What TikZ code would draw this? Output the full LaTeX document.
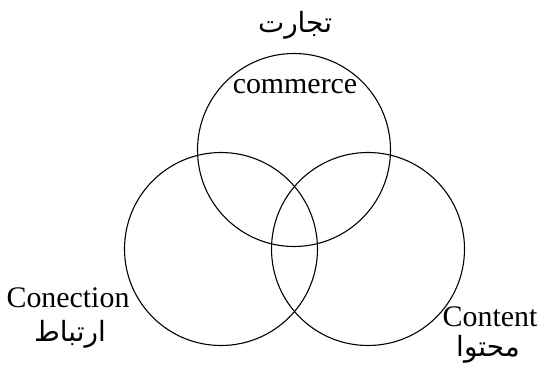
\documentclass[tikz,border=0pt]{standalone}
\usepackage{fontspec}
\setmainfont{Liberation Serif}
\newfontfamily\arabicfont[Script=Arabic]{DejaVu Sans}
\TeXXeTstate=1

\tikzset{
  venn/.style={line width=1.1pt},
  latinlbl/.style={anchor=base,inner sep=0pt,font=\fontsize{30}{32}\selectfont},
  farsilbl/.style={inner sep=0pt,font=\arabicfont\fontsize{28}{30}\selectfont}
}

\begin{document}
\begin{tikzpicture}[x=1bp,y=1bp]
   \useasboundingbox (0,0) rectangle (540,364);
   \coordinate (tejarat) at (294,214);
   \coordinate (ertebat) at (221,115);
   \coordinate (mohtava) at (368,115);
   \foreach \c in {tejarat,ertebat,mohtava} {
    \draw[venn] (\c) circle(96.5);
   }
   \node[farsilbl] (tejaratfa) at (295,339) {\beginR تجارت\endR};
   \node[latinlbl] (tejaraten) at (295,271) {commerce};
   \node[latinlbl] (ertebaten) at (68,57) {Conection};
   \node[farsilbl] (ertebatfa) at (70,30) {\beginR ارتباط\endR};
   \node[latinlbl] (mohtavaen) at (490,38) {Content};
   \node[farsilbl] (mohtavafa) at (488,15) {\beginR محتوا\endR};
  \end{tikzpicture}
\end{document}
